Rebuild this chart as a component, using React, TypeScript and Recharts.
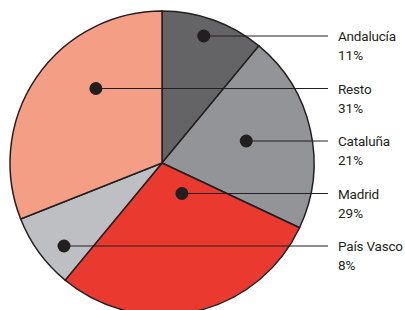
import { PieChart, Pie, Cell } from 'recharts';

// slices, clockwise from 12 o'clock
const regions = ['Andalucía', 'Cataluña', 'Madrid', 'País Vasco', 'Resto'];
const shares = [11, 21, 29, 8, 31];
// order of the labels down the right-hand side
const labelOrder = ['Andalucía', 'Resto', 'Cataluña', 'Madrid', 'País Vasco'];

const sliceColors = ['#646466', '#939497', '#ea3a30', '#bebfc2', '#f49e86'];
const ink = '#231f20';

const data = regions.map((name, i) => ({ name, value: shares[i] }));

const ROW_TOP = 36;
const ROW_GAP = 52.5;
const LINE_END = 328;
const TEXT_X = 338;

// horizontal extent of a sector along a given y, used to drop the dot in the slice
function sectorSpan(cx: number, cy: number, r: number, start: number, end: number, y: number) {
  let minX = Infinity;
  let maxX = -Infinity;
  const sweep = start - end;
  for (let x = cx - r; x <= cx + r; x += 0.25) {
    const dx = x - cx;
    const dy = cy - y;
    if (dx * dx + dy * dy > r * r) continue;
    const ang = (Math.atan2(dy, dx) * 180) / Math.PI;
    const a = (((start - ang) % 360) + 360) % 360;
    if (a <= sweep) {
      if (x < minX) minX = x;
      if (x > maxX) maxX = x;
    }
  }
  return (minX + maxX) / 2;
}

function renderLabel(props: any) {
  const { cx, cy, outerRadius, startAngle, endAngle, name, value } = props;
  const row = labelOrder.indexOf(name);
  const y = ROW_TOP + row * ROW_GAP;
  const dotX = sectorSpan(cx, cy, outerRadius, startAngle, endAngle, y);
  return (
    <g key={name}>
      <line x1={dotX} y1={y} x2={LINE_END} y2={y} stroke={ink} strokeWidth={1.1} />
      <circle cx={dotX} cy={y} r={6.5} fill={ink} />
      <text x={TEXT_X} y={y + 5} fontSize={13.5} letterSpacing={-0.2} fontFamily="Roboto" fill={ink}>
        {name}
      </text>
      <text x={TEXT_X} y={y + 24} fontSize={13.5} fontFamily="Roboto" fill={ink}>
        {value}%
      </text>
    </g>
  );
}

export default function App() {
  return (
    <div style={{ position: 'absolute', left: 0, top: 0, width: 405, height: 310, background: '#fff' }}>
      <PieChart width={405} height={310} margin={{ top: 0, right: 0, bottom: 0, left: 0 }}>
        <Pie
          data={data}
          dataKey="value"
          nameKey="name"
          cx={162}
          cy={163}
          outerRadius={152}
          startAngle={90}
          endAngle={-270}
          stroke={ink}
          strokeWidth={1.5}
          label={renderLabel}
          labelLine={false}
          isAnimationActive={false}
        >
          {data.map((d, i) => (
            <Cell key={d.name} fill={sliceColors[i]} />
          ))}
        </Pie>
      </PieChart>
    </div>
  );
}
